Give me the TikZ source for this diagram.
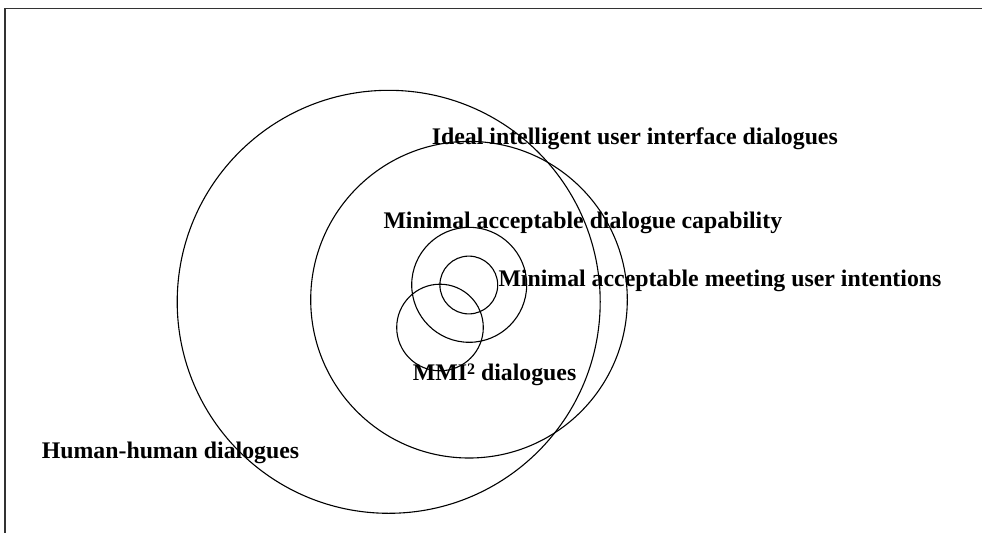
\documentclass[tikz,border=0pt]{standalone}
\usepackage{fontspec}
\setmainfont{Liberation Serif}
\usepackage{tikz}
\usetikzlibrary{positioning}

\begin{document}
\begin{tikzpicture}[
  x=1pt, y=-1pt,
  ring/.style={draw=black, line width=1.1pt, circle, inner sep=0pt, outer sep=0pt},
  tag/.style={font=\bfseries\fontsize{23.8}{28}\selectfont, inner sep=0pt, anchor=base west},
  frame/.style={draw=black!80, line width=1.2pt}
]
\useasboundingbox (0,0) rectangle (982,533);

% frame, cut off at the right and the bottom
\coordinate (corner) at (5,8.7);
\coordinate (topend) at (982,8.7);
\coordinate (leftend) at (5,533);
\draw[frame] (topend) -- (corner) -- (leftend);

% sets of dialogues
\node[ring, minimum size=423pt]   (human)      at (388.7,301.8) {};
\node[ring, minimum size=316.6pt] (ideal)      at (469,299.7) {};
\node[ring, minimum size=115pt]   (capability) at (469.2,284.8) {};
\node[ring, minimum size=57.8pt]  (intentions) at (468.8,285) {};
\node[ring, minimum size=86.6pt]  (mmi)        at (440,327.5) {};

% labels
\node[tag] (idealtag)      at (431.7,144.3) {Ideal intelligent user interface dialogues};
\node[tag] (capabilitytag) at (383.3,228.3) {Minimal acceptable dialogue capability};
\node[tag] (intentionstag) at (498.3,286.7) {Minimal acceptable meeting user intentions};
\node[tag] (mmitag)        at (412.7,380.7) {MMI\raisebox{0.55ex}{\fontsize{16}{18}\selectfont 2} dialogues};
\node[tag] (humantag)      at (41.7,458)    {Human-human dialogues};
\end{tikzpicture}
\end{document}
